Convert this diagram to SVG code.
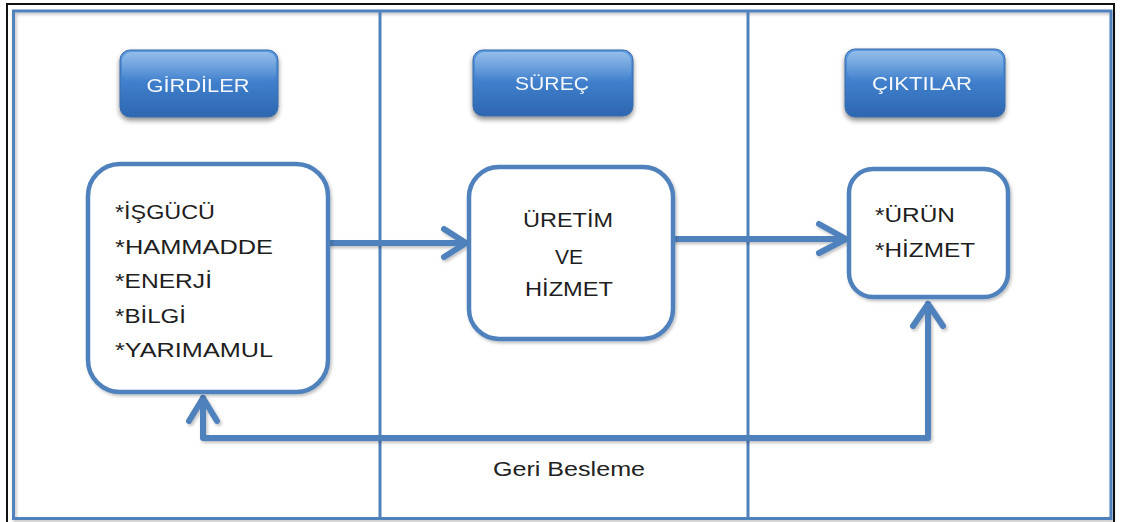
<svg xmlns="http://www.w3.org/2000/svg" width="1121" height="522" viewBox="0 0 1121 522">
  <style>
    .frame { fill: none; stroke: #4f81bd; stroke-width: 3; }
    .box { fill: #ffffff; stroke: #4f81bd; stroke-width: 4.5; }
    .btn { stroke: #3a6aa8; stroke-width: 1; }
    .btn-text { font-family: "Liberation Sans", Arial, sans-serif; font-size: 19px; fill: #f4f7fc; text-anchor: middle; }
    .label { font-family: "Liberation Sans", Arial, sans-serif; font-size: 21px; fill: #1e1e1e; }
    .label-mid { font-family: "Liberation Sans", Arial, sans-serif; font-size: 21px; fill: #1e1e1e; text-anchor: middle; }
    .conn { fill: none; stroke: #4f81bd; stroke-width: 6; stroke-linecap: round; stroke-linejoin: round; }
    .note { font-family: "Liberation Sans", Arial, sans-serif; font-size: 20px; fill: #222222; }
  </style>
  <defs>
    <linearGradient id="btnFill" x1="0" y1="0" x2="0" y2="1">
      <stop offset="0" stop-color="#5b9be0"/>
      <stop offset="0.5" stop-color="#3f7ecb"/>
      <stop offset="1" stop-color="#2d67b0"/>
    </linearGradient>
    <linearGradient id="btnGloss" x1="0" y1="0" x2="0" y2="1">
      <stop offset="0" stop-color="#ffffff" stop-opacity="0.35"/>
      <stop offset="1" stop-color="#ffffff" stop-opacity="0"/>
    </linearGradient>
    <filter id="btnShadow" x="-20%" y="-20%" width="140%" height="150%">
      <feDropShadow dx="0" dy="3" stdDeviation="2.5" flood-color="#000000" flood-opacity="0.45"/>
    </filter>
    <filter id="softShadow" x="-10%" y="-10%" width="120%" height="130%">
      <feDropShadow dx="1.5" dy="2" stdDeviation="1.5" flood-color="#000000" flood-opacity="0.25"/>
    </filter>
  </defs>

  <!-- outer border and lane frame -->
  <g id="frame">
    <rect x="0" y="0" width="1121" height="522" fill="#ffffff"/>
    <rect x="7" y="4" width="1107" height="522" fill="none" stroke="#111111" stroke-width="2"/>
    <rect class="frame" x="13.5" y="11" width="1097.5" height="507.5" filter="url(#softShadow)"/>
    <line class="frame" x1="380" y1="11" x2="380" y2="518.5"/>
    <line class="frame" x1="748" y1="11" x2="748" y2="518.5"/>
  </g>

  <!-- column headers -->
  <g id="header-girdiler" filter="url(#btnShadow)">
    <rect class="btn" x="120" y="50" width="158" height="67" rx="10" fill="url(#btnFill)"/>
    <rect x="122" y="52" width="154" height="30" rx="9" fill="url(#btnGloss)"/>
    <text class="btn-text" x="198" y="92" textLength="103" lengthAdjust="spacingAndGlyphs">GİRDİLER</text>
  </g>
  <g id="header-surec" filter="url(#btnShadow)">
    <rect class="btn" x="473" y="50" width="160" height="66" rx="10" fill="url(#btnFill)"/>
    <rect x="475" y="52" width="156" height="30" rx="9" fill="url(#btnGloss)"/>
    <text class="btn-text" x="552" y="90" textLength="74" lengthAdjust="spacingAndGlyphs">SÜREÇ</text>
  </g>
  <g id="header-ciktilar" filter="url(#btnShadow)">
    <rect class="btn" x="845" y="49" width="160" height="68" rx="10" fill="url(#btnFill)"/>
    <rect x="847" y="51" width="156" height="30" rx="9" fill="url(#btnGloss)"/>
    <text class="btn-text" x="922" y="90" textLength="100" lengthAdjust="spacingAndGlyphs">ÇIKTILAR</text>
  </g>

  <!-- connectors -->
  <g id="connectors" filter="url(#softShadow)">
    <!-- inputs to process -->
    <path class="conn" d="M330 243 H466"/>
    <path class="conn" d="M444 229 L466 243 L444 257"/>
    <!-- process to outputs -->
    <path class="conn" d="M675 239 H846"/>
    <path class="conn" d="M819 224 L846 239 L819 253"/>
    <!-- feedback loop -->
    <path class="conn" d="M928 304 V438 H203 V398"/>
    <path class="conn" d="M913 326 L928 304 L943 326"/>
    <path class="conn" d="M189 421 L203 398 L217 421"/>
  </g>

  <!-- inputs -->
  <g id="node-inputs">
    <rect class="box" x="88" y="164" width="240" height="228" rx="32" filter="url(#softShadow)"/>
    <text class="label" x="115" y="219" textLength="100" lengthAdjust="spacingAndGlyphs">*İŞGÜCÜ</text>
    <text class="label" x="115" y="253.5" textLength="158" lengthAdjust="spacingAndGlyphs">*HAMMADDE</text>
    <text class="label" x="115" y="288" textLength="97" lengthAdjust="spacingAndGlyphs">*ENERJİ</text>
    <text class="label" x="115" y="322.5" textLength="71" lengthAdjust="spacingAndGlyphs">*BİLGİ</text>
    <text class="label" x="115" y="357" textLength="158" lengthAdjust="spacingAndGlyphs">*YARIMAMUL</text>
  </g>

  <!-- process -->
  <g id="node-process">
    <rect class="box" x="469" y="167" width="204" height="172" rx="30" filter="url(#softShadow)"/>
    <text class="label-mid" x="568" y="227" textLength="90" lengthAdjust="spacingAndGlyphs">ÜRETİM</text>
    <text class="label-mid" x="569" y="264">VE</text>
    <text class="label-mid" x="569" y="296" textLength="88" lengthAdjust="spacingAndGlyphs">HİZMET</text>
  </g>

  <!-- outputs -->
  <g id="node-outputs">
    <rect class="box" x="849" y="169" width="159" height="128" rx="24" filter="url(#softShadow)"/>
    <text class="label" x="875" y="222" textLength="80" lengthAdjust="spacingAndGlyphs">*ÜRÜN</text>
    <text class="label" x="875" y="257" textLength="100" lengthAdjust="spacingAndGlyphs">*HİZMET</text>
  </g>

  <!-- feedback label -->
  <g id="label-feedback">
    <text class="note" x="493" y="476" textLength="152" lengthAdjust="spacingAndGlyphs">Geri Besleme</text>
  </g>
</svg>
